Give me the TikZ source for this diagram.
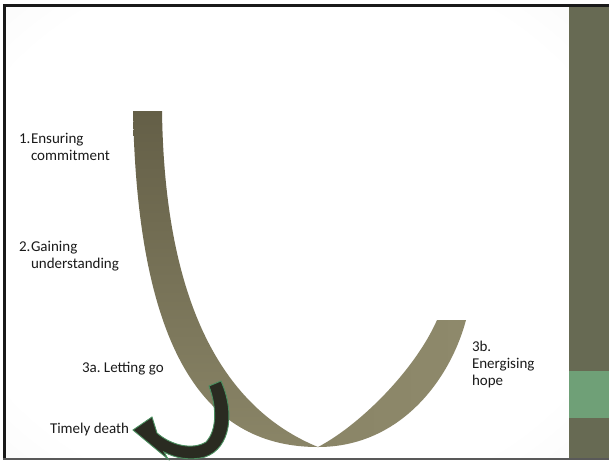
\documentclass[tikz,border=0pt]{standalone}
\usepackage{fontspec}
\setmainfont{Carlito}
\frenchspacing
\definecolor{panel}{HTML}{676A53}
\definecolor{gbox}{HTML}{6FA077}
\definecolor{ribtop}{HTML}{645F47}
\definecolor{ribbot}{HTML}{8A8567}
\definecolor{ribright}{HTML}{8E896B}
\definecolor{arrowfill}{HTML}{2A2B21}
\definecolor{arrowline}{HTML}{4A8F5F}
\definecolor{txt}{HTML}{1A1A1A}
\pgfdeclareradialshading{slidebg}{\pgfpoint{0bp}{0bp}}{color(0bp)=(white); color(30bp)=(white); color(50bp)=(black!5); color(72bp)=(black!13)}
\tikzset{
  lbl/.style={anchor=base west, inner sep=0pt, outer sep=0pt, text=txt,
    font=\fontsize{15}{17}\selectfont},
}
\begin{document}
\begin{tikzpicture}[x=1pt,y=-1pt]
\useasboundingbox (0,0) rectangle (609,461);
\fill[white] (0,0) rectangle (609,461);
% slide background
\shade[shading=slidebg] (6,7) rectangle (569,458);
% right panel
\fill[panel] (569,5) rectangle (609,458);
\fill[gbox] (569,371) rectangle (609,418);
% frame
\draw[line width=3pt, black!90] (4.5,458) -- (4.5,5.5) -- (609,5.5);
\draw[line width=1.4pt, black!65] (3,459) -- (609,459);
% ribbon left piece
\shade[top color=ribtop, bottom color=ribbot]
  (133,111) -- (162,111) .. controls (165,330) and (240,415) .. (318,447)
  .. controls (210,447) and (138,360) .. (133,111) -- cycle;
% ribbon right piece
\shade[left color=ribbot, right color=ribright]
  (318,447) .. controls (360,425) and (415,370) .. (437,320) -- (466,320)
  .. controls (450,380) and (400,447) .. (318,447) -- cycle;
% curved arrow
\filldraw[fill=arrowfill, draw=arrowline, line width=0.9pt, line join=miter]
  (209,386) -- (221,381) .. controls (235,412) and (231,448) .. (205,457)
  .. controls (190,461) and (175,458) .. (164,452) -- (168,459) -- (133,430)
  -- (152,417) -- (157,433) .. controls (172,446) and (193,450) .. (206,442)
  .. controls (217,430) and (217,408) .. (209,386) -- cycle;
% labels
\node[lbl] (n1) at (19,143) {1.};
\node[lbl] (t1a) at (31,143) {Ensuring};
\node[lbl] (t1b) at (31,160) {commitment};
\node[lbl] (n2) at (19,251) {2.};
\node[lbl] (t2a) at (31,251) {Gaining};
\node[lbl] (t2b) at (31,268) {understanding};
\node[lbl] (t3a) at (82,372) {3a. Letting go};
\node[lbl] (td) at (50,433) {Timely death};
\node[lbl] (t3b) at (472,351) {3b.};
\node[lbl] (t3c) at (472,368) {Energising};
\node[lbl] (t3d) at (472,385) {hope};
\end{tikzpicture}
\end{document}
